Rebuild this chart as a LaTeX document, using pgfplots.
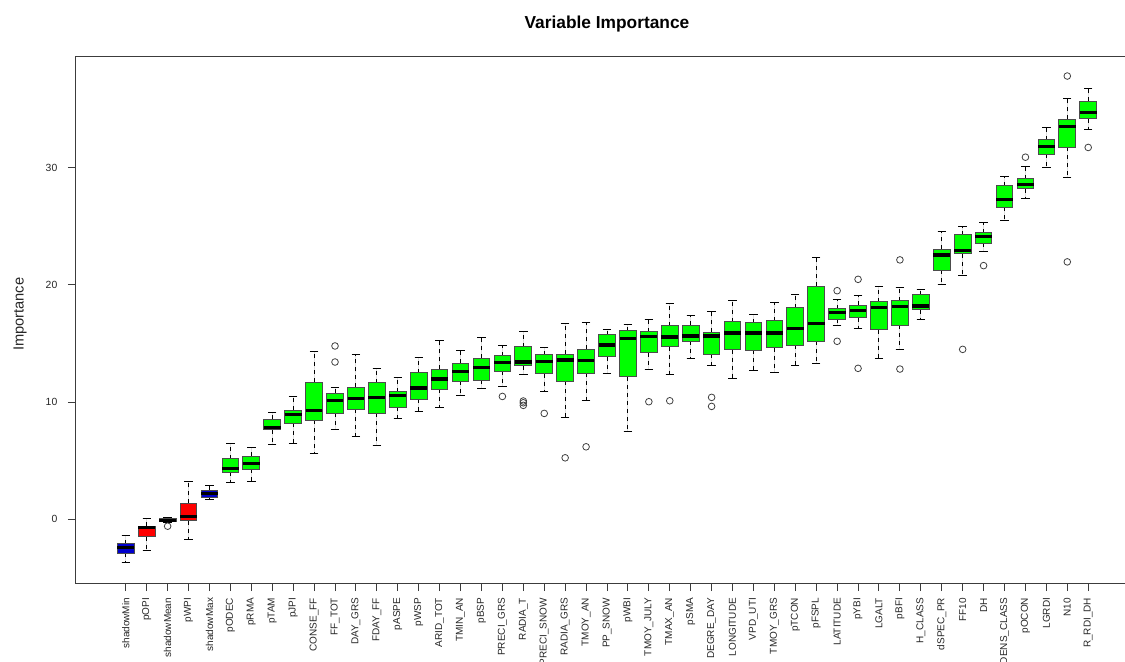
\documentclass[border=0pt]{standalone}
\usepackage{fontspec}
\setmainfont{Liberation Sans}
\usepackage{pgfplots}
\pgfplotsset{compat=1.18}
\usepgfplotslibrary{statistics}

\definecolor{bgreen}{RGB}{0,255,0}
\definecolor{bred}{RGB}{255,0,0}
\definecolor{bblue}{RGB}{0,0,205}
\definecolor{frame}{RGB}{60,60,60}

\pgfplotsset{
  imp/.style={
    boxplot/box extend=0.8,
    boxplot/whisker extend=0.4,
    draw=black!70, line width=0.75pt,
    mark=o, mark size=2.5pt,
    mark options={draw=black!75, fill=none, line width=0.6pt, solid},
    boxplot/draw/median/.code={%
      \draw[black, line width=2.4pt]
        (boxplot box cs:\pgfplotsboxplotvalue{median},0) --
        (boxplot box cs:\pgfplotsboxplotvalue{median},1);},
    boxplot/draw/lower whisker/.code={%
      \draw[black, line width=0.75pt, dash pattern=on 3pt off 3pt]
        (boxplot box cs:\pgfplotsboxplotvalue{lower quartile},0.5) --
        (boxplot box cs:\pgfplotsboxplotvalue{lower whisker},0.5);
      \draw[black, line width=0.75pt]
        (boxplot whisker cs:\pgfplotsboxplotvalue{lower whisker},0) --
        (boxplot whisker cs:\pgfplotsboxplotvalue{lower whisker},1);},
    boxplot/draw/upper whisker/.code={%
      \draw[black, line width=0.75pt, dash pattern=on 3pt off 3pt]
        (boxplot box cs:\pgfplotsboxplotvalue{upper quartile},0.5) --
        (boxplot box cs:\pgfplotsboxplotvalue{upper whisker},0.5);
      \draw[black, line width=0.75pt]
        (boxplot whisker cs:\pgfplotsboxplotvalue{upper whisker},0) --
        (boxplot whisker cs:\pgfplotsboxplotvalue{upper whisker},1);},
  },
  gb/.style={imp, fill=bgreen},
  rb/.style={imp, fill=bred},
  bb/.style={imp, fill=bblue},
}

\begin{document}
\begin{tikzpicture}
\begin{axis}[
  at={(0,0)}, anchor=south west,
  scale only axis, width=796.5pt, height=395.25pt,
  xmin=-1.38, xmax=49.38, ymin=-5.45, ymax=39.55,
  boxplot/draw direction=y,
  axis line style={frame, line width=0.75pt},
  tick style={frame, line width=0.75pt},
  tick align=outside, major tick length=6pt,
  xtick pos=left, ytick pos=left,
  xtick={1,...,47},
  xticklabels={shadowMin,pOPI,shadowMean,pWPI,shadowMax,pODEC,pRMA,pTAM,pJPI,CONSE\_FF,FF\_TOT,DAY\_GRS,FDAY\_FF,pASPE,pWSP,ARID\_TOT,TMIN\_AN,pBSP,PRECI\_GRS,RADIA\_T,PRECI\_SNOW,RADIA\_GRS,TMOY\_AN,PP\_SNOW,pWBI,TMOY\_JULY,TMAX\_AN,pSMA,DEGRE\_DAY,LONGITUDE,VPD\_UTI,TMOY\_GRS,pTCON,pFSPL,LATITUDE,pYBI,LGALT,pBFI,H\_CLASS,dSPEC\_PR,FF10,DH,DENS\_CLASS,pOCON,LGRDI,N10,R\_RDI\_DH},
  xticklabel style={rotate=90, anchor=east, inner sep=0pt, xshift=-5pt, font=\fontsize{7.5}{9}\selectfont, text=black!85},
  ytick={0,10,20,30},
  yticklabel style={xshift=-4.5pt, font=\fontsize{7.8}{9}\selectfont, text=black!85},
  /pgf/number format/assume math mode=true,
  title={Variable Importance},
  title style={at={(0.5,1)}, anchor=base, yshift=15pt, font=\bfseries\fontsize{13}{15}\selectfont},
  ylabel={Importance},
  ylabel style={at={(axis description cs:-0.0527,0.51)}, anchor=center, font=\fontsize{11}{13}\selectfont, text=black!85},
  clip=false,
]
% shadow attributes and rejected/confirmed attributes, in order of median importance
\addplot[bb, boxplot prepared={draw position=1, lower whisker=-3.73, lower quartile=-2.93, median=-2.45, upper quartile=-2.08, upper whisker=-1.43}] coordinates {};
\addplot[rb, boxplot prepared={draw position=2, lower whisker=-2.68, lower quartile=-1.51, median=-0.71, upper quartile=-0.60, upper whisker=0.03}] coordinates {};
\addplot[bb, boxplot prepared={draw position=3, lower whisker=-0.30, lower quartile=-0.20, median=-0.09, upper quartile=0.03, upper whisker=0.14}] table[row sep=\\, y index=0] {v\\ -0.60\\};
\addplot[rb, boxplot prepared={draw position=4, lower whisker=-1.74, lower quartile=-0.14, median=0.26, upper quartile=1.34, upper whisker=3.25}] coordinates {};
\addplot[bb, boxplot prepared={draw position=5, lower whisker=1.71, lower quartile=1.85, median=2.16, upper quartile=2.48, upper whisker=2.85}] coordinates {};
\addplot[gb, boxplot prepared={draw position=6, lower whisker=3.10, lower quartile=4.02, median=4.30, upper quartile=5.15, upper whisker=6.47}] coordinates {};
\addplot[gb, boxplot prepared={draw position=7, lower whisker=3.19, lower quartile=4.25, median=4.76, upper quartile=5.38, upper whisker=6.15}] coordinates {};
\addplot[gb, boxplot prepared={draw position=8, lower whisker=6.41, lower quartile=7.63, median=7.86, upper quartile=8.52, upper whisker=9.09}] coordinates {};
\addplot[gb, boxplot prepared={draw position=9, lower whisker=6.47, lower quartile=8.18, median=8.92, upper quartile=9.32, upper whisker=10.49}] coordinates {};
\addplot[gb, boxplot prepared={draw position=10, lower whisker=5.61, lower quartile=8.43, median=9.29, upper quartile=11.71, upper whisker=14.30}] coordinates {};
\addplot[gb, boxplot prepared={draw position=11, lower whisker=7.69, lower quartile=9.03, median=10.11, upper quartile=10.74, upper whisker=11.22}] table[row sep=\\, y index=0] {v\\ 13.42\\ 14.79\\};
\addplot[gb, boxplot prepared={draw position=12, lower whisker=7.03, lower quartile=9.40, median=10.31, upper quartile=11.26, upper whisker=14.04}] coordinates {};
\addplot[gb, boxplot prepared={draw position=13, lower whisker=6.32, lower quartile=9.03, median=10.40, upper quartile=11.65, upper whisker=12.85}] coordinates {};
\addplot[gb, boxplot prepared={draw position=14, lower whisker=8.63, lower quartile=9.55, median=10.57, upper quartile=10.88, upper whisker=12.08}] coordinates {};
\addplot[gb, boxplot prepared={draw position=15, lower whisker=9.23, lower quartile=10.23, median=11.20, upper quartile=12.50, upper whisker=13.79}] coordinates {};
\addplot[gb, boxplot prepared={draw position=16, lower whisker=9.57, lower quartile=11.09, median=11.97, upper quartile=12.80, upper whisker=15.24}] coordinates {};
\addplot[gb, boxplot prepared={draw position=17, lower whisker=10.54, lower quartile=11.79, median=12.59, upper quartile=13.30, upper whisker=14.39}] coordinates {};
\addplot[gb, boxplot prepared={draw position=18, lower whisker=11.17, lower quartile=11.88, median=12.96, upper quartile=13.73, upper whisker=15.50}] coordinates {};
\addplot[gb, boxplot prepared={draw position=19, lower whisker=11.31, lower quartile=12.65, median=13.36, upper quartile=13.96, upper whisker=14.87}] table[row sep=\\, y index=0] {v\\ 10.48\\};
\addplot[gb, boxplot prepared={draw position=20, lower whisker=12.37, lower quartile=13.10, median=13.42, upper quartile=14.73, upper whisker=16.01}] table[row sep=\\, y index=0] {v\\ 10.09\\ 9.94\\ 9.72\\};
\addplot[gb, boxplot prepared={draw position=21, lower whisker=10.88, lower quartile=12.42, median=13.45, upper quartile=14.02, upper whisker=14.70}] table[row sep=\\, y index=0] {v\\ 9.03\\};
\addplot[gb, boxplot prepared={draw position=22, lower whisker=8.66, lower quartile=11.79, median=13.59, upper quartile=14.10, upper whisker=16.72}] table[row sep=\\, y index=0] {v\\ 5.24\\};
\addplot[gb, boxplot prepared={draw position=23, lower whisker=10.11, lower quartile=12.48, median=13.56, upper quartile=14.50, upper whisker=16.78}] table[row sep=\\, y index=0] {v\\ 6.18\\};
\addplot[gb, boxplot prepared={draw position=24, lower whisker=12.42, lower quartile=13.87, median=14.87, upper quartile=15.75, upper whisker=16.21}] coordinates {};
\addplot[gb, boxplot prepared={draw position=25, lower whisker=7.49, lower quartile=12.16, median=15.41, upper quartile=16.10, upper whisker=16.64}] coordinates {};
\addplot[gb, boxplot prepared={draw position=26, lower whisker=12.79, lower quartile=14.19, median=15.58, upper quartile=16.01, upper whisker=17.09}] table[row sep=\\, y index=0] {v\\ 10.03\\};
\addplot[gb, boxplot prepared={draw position=27, lower whisker=12.33, lower quartile=14.73, median=15.56, upper quartile=16.50, upper whisker=18.38}] table[row sep=\\, y index=0] {v\\ 10.11\\};
\addplot[gb, boxplot prepared={draw position=28, lower whisker=13.73, lower quartile=15.19, median=15.64, upper quartile=16.58, upper whisker=17.41}] coordinates {};
\addplot[gb, boxplot prepared={draw position=29, lower whisker=13.10, lower quartile=14.10, median=15.64, upper quartile=15.96, upper whisker=17.72}] table[row sep=\\, y index=0] {v\\ 10.40\\ 9.63\\};
\addplot[gb, boxplot prepared={draw position=30, lower whisker=11.97, lower quartile=14.47, median=15.90, upper quartile=16.86, upper whisker=18.63}] coordinates {};
\addplot[gb, boxplot prepared={draw position=31, lower whisker=12.71, lower quartile=14.42, median=15.90, upper quartile=16.78, upper whisker=17.46}] coordinates {};
\addplot[gb, boxplot prepared={draw position=32, lower whisker=12.50, lower quartile=14.64, median=15.90, upper quartile=16.95, upper whisker=18.49}] coordinates {};
\addplot[gb, boxplot prepared={draw position=33, lower whisker=13.10, lower quartile=14.84, median=16.27, upper quartile=18.06, upper whisker=19.20}] coordinates {};
\addplot[gb, boxplot prepared={draw position=34, lower whisker=13.28, lower quartile=15.19, median=16.72, upper quartile=19.89, upper whisker=22.37}] coordinates {};
\addplot[gb, boxplot prepared={draw position=35, lower whisker=16.52, lower quartile=17.07, median=17.66, upper quartile=17.95, upper whisker=18.74}] table[row sep=\\, y index=0] {v\\ 19.51\\ 15.19\\};
\addplot[gb, boxplot prepared={draw position=36, lower whisker=16.30, lower quartile=17.21, median=17.81, upper quartile=18.26, upper whisker=19.12}] table[row sep=\\, y index=0] {v\\ 20.48\\ 12.88\\};
\addplot[gb, boxplot prepared={draw position=37, lower whisker=13.76, lower quartile=16.18, median=18.06, upper quartile=18.57, upper whisker=19.89}] coordinates {};
\addplot[gb, boxplot prepared={draw position=38, lower whisker=14.50, lower quartile=16.55, median=18.15, upper quartile=18.66, upper whisker=19.77}] table[row sep=\\, y index=0] {v\\ 22.14\\ 12.82\\};
\addplot[gb, boxplot prepared={draw position=39, lower whisker=17.07, lower quartile=17.89, median=18.21, upper quartile=19.17, upper whisker=19.63}] coordinates {};
\addplot[gb, boxplot prepared={draw position=40, lower whisker=20.03, lower quartile=21.25, median=22.56, upper quartile=23.05, upper whisker=24.56}] coordinates {};
\addplot[gb, boxplot prepared={draw position=41, lower whisker=20.80, lower quartile=22.65, median=22.91, upper quartile=24.27, upper whisker=24.96}] table[row sep=\\, y index=0] {v\\ 14.50\\};
\addplot[gb, boxplot prepared={draw position=42, lower whisker=22.88, lower quartile=23.56, median=24.13, upper quartile=24.47, upper whisker=25.33}] table[row sep=\\, y index=0] {v\\ 21.65\\};
\addplot[gb, boxplot prepared={draw position=43, lower whisker=25.53, lower quartile=26.64, median=27.29, upper quartile=28.49, upper whisker=29.26}] coordinates {};
\addplot[gb, boxplot prepared={draw position=44, lower whisker=27.38, lower quartile=28.21, median=28.57, upper quartile=29.06, upper whisker=30.11}] table[row sep=\\, y index=0] {v\\ 30.91\\};
\addplot[gb, boxplot prepared={draw position=45, lower whisker=30.00, lower quartile=31.14, median=31.82, upper quartile=32.39, upper whisker=33.45}] coordinates {};
\addplot[gb, boxplot prepared={draw position=46, lower whisker=29.15, lower quartile=31.74, median=33.50, upper quartile=34.13, upper whisker=35.92}] table[row sep=\\, y index=0] {v\\ 37.84\\ 21.97\\};
\addplot[gb, boxplot prepared={draw position=47, lower whisker=33.31, lower quartile=34.21, median=34.70, upper quartile=35.67, upper whisker=36.78}] table[row sep=\\, y index=0] {v\\ 31.74\\};
\end{axis}
% page frame: 1125 x 661 units of 0.75pt, axis frame starting 76 units in and 78 units up
\pgfresetboundingbox
\useasboundingbox (-57pt,-58.5pt) rectangle (786.75pt,437.25pt);
\end{tikzpicture}
\end{document}
